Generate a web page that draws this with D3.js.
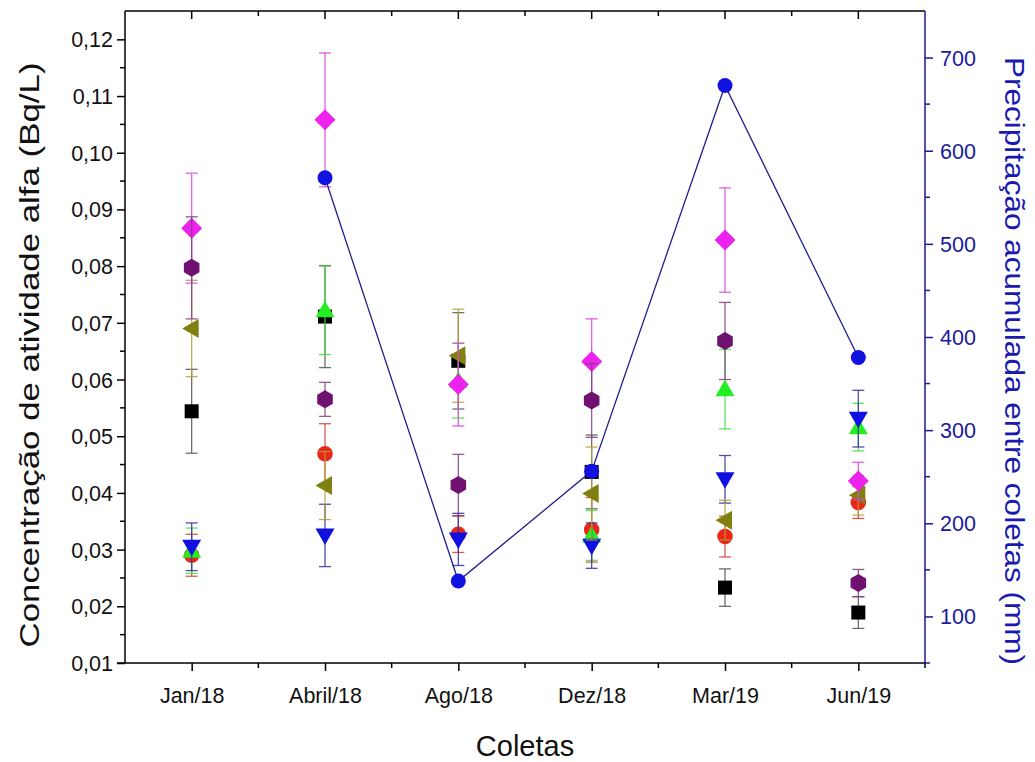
<!DOCTYPE html>
<html><head><meta charset="utf-8">
<script src="https://cdn.jsdelivr.net/npm/d3@7"></script>
<style>body{margin:0;background:#fff;} svg{display:block;font-family:"Liberation Sans",Arial,sans-serif;}</style>
</head><body><svg id="c" width="1035" height="762"></svg>
<script>
const categories = ["Jan/18","Abril/18","Ago/18","Dez/18","Mar/19","Jun/19"];
const leftTicks = [0.01,0.02,0.03,0.04,0.05,0.06,0.07,0.08,0.09,0.10,0.11,0.12];
const rightTicks = [100,200,300,400,500,600,700];

const blackVals   = [0.0544,0.0711,0.0633,0.0437,0.0233,0.0189];
const blackErr    = [0.0074,0.0090,0.0085,0.0065,0.0033,0.0028];
const redVals     = [0.0290,0.0469,0.0327,0.0335,0.0323,0.0383];
const redErr      = [0.0037,0.0053,0.0032,0.0057,0.0036,0.0028];
const greenVals   = [0.0298,0.0722,0.0598,0.0325,0.0583,0.0516];
const greenErr    = [0.0040,0.0078,0.0066,0.0044,0.0070,0.0042];
const blueVals    = [0.0305,0.0325,0.0318,0.0307,0.0424,0.0531];
const blueErr     = [0.0042,0.0055,0.0046,0.0040,0.0042,0.0050];
const oliveVals   = [0.0690,0.0413,0.0642,0.0399,0.0352,0.0396];
const oliveErr    = [0.0085,0.0060,0.0082,0.0082,0.0035,0.0035];
const magentaVals = [0.0867,0.1058,0.0591,0.0632,0.0846,0.0421];
const magentaErr  = [0.0097,0.0118,0.0073,0.0075,0.0092,0.0033];
const purpleVals  = [0.0797,0.0565,0.0414,0.0563,0.0668,0.0241];
const purpleErr   = [0.0090,0.0030,0.0054,0.0065,0.0068,0.0024];
const precipVals  = [null,571,138,256,670,378];

const series = [
  {v:blackVals,e:blackErr,fill:"#000000",err:"#555555",shape:"square"},
  {v:redVals,e:redErr,fill:"#e8261a",err:"#d84030",shape:"circle"},
  {v:greenVals,e:greenErr,fill:"#22ee22",err:"#44dd44",shape:"up"},
  {v:blueVals,e:blueErr,fill:"#1010e0",err:"#3030a0",shape:"down"},
  {v:oliveVals,e:oliveErr,fill:"#808010",err:"#b0a030",shape:"left"},
  {v:magentaVals,e:magentaErr,fill:"#ee22ee",err:"#dd44dd",shape:"diamond"},
  {v:purpleVals,e:purpleErr,fill:"#701070",err:"#804080",shape:"hex"}
];

const svg = d3.select("#c");
const L=125,R=925,T=11,B=663;
const x = d3.scaleLinear().domain([-0.5,5.5]).range([L,R]);
const y = d3.scaleLinear().domain([0.01,0.125]).range([B,T]);
const y2 = d3.scaleLinear().domain([50,750]).range([B,T]);
const fmt = d => d3.format(".2f")(d).replace(".",",");
const TF = 21.5;

// frame lines
svg.append("line").attr("x1",L).attr("x2",R).attr("y1",T).attr("y2",T).attr("stroke","#000").attr("stroke-width",1.5);
svg.append("line").attr("x1",L-8).attr("x2",R).attr("y1",B).attr("y2",B).attr("stroke","#000").attr("stroke-width",1.5);

// bottom axis
const xb = d3.axisBottom(x).tickValues(d3.range(categories.length)).tickFormat(i=>categories[i]).tickSize(8).tickSizeOuter(0);
const gx = svg.append("g").attr("transform",`translate(0,${B})`).call(xb);
gx.select(".domain").remove();
gx.selectAll(".tick line").attr("stroke-width",1.5);
gx.selectAll("text").attr("font-size",TF).attr("y",40).attr("dy",0).attr("fill","#111");
const minorX = d3.range(0.5,5.5,1).concat([5.5]);
svg.append("g").selectAll("line").data(minorX).join("line")
  .attr("x1",d=>x(d)).attr("x2",d=>x(d)).attr("y1",B).attr("y2",B+5).attr("stroke","#000").attr("stroke-width",1.5);
// top ticks inward
svg.append("g").selectAll("line").data(d3.range(categories.length)).join("line")
  .attr("x1",d=>x(d)).attr("x2",d=>x(d)).attr("y1",T).attr("y2",T+8).attr("stroke","#000").attr("stroke-width",1.5);
svg.append("g").selectAll("line").data(minorX.slice(0,5)).join("line")
  .attr("x1",d=>x(d)).attr("x2",d=>x(d)).attr("y1",T).attr("y2",T+5).attr("stroke","#000").attr("stroke-width",1.5);

// left axis
const yl = d3.axisLeft(y).tickValues(leftTicks).tickFormat(fmt).tickSize(8).tickSizeOuter(0);
const gy = svg.append("g").attr("transform",`translate(${L},0)`).call(yl);
gy.select(".domain").attr("stroke-width",1.5).attr("d",`M0,${B}V${T}`);
gy.selectAll(".tick line").attr("stroke-width",1.5);
gy.selectAll("text").attr("font-size",TF).attr("fill","#111").attr("x",-12).attr("dy","0.35em");
svg.append("g").selectAll("line").data(d3.range(0.015,0.125,0.01)).join("line")
  .attr("x1",L-5).attr("x2",L).attr("y1",d=>y(d)).attr("y2",d=>y(d)).attr("stroke","#000").attr("stroke-width",1.5);

// right axis
const blueAxis="#1a1a9a";
const yr = d3.axisRight(y2).tickValues(rightTicks).tickSize(8).tickSizeOuter(0);
const gr = svg.append("g").attr("transform",`translate(${R},0)`).call(yr);
gr.select(".domain").attr("stroke",blueAxis).attr("stroke-width",1.5).attr("d",`M0,${B}V${T}`);
gr.selectAll(".tick line").attr("stroke",blueAxis).attr("stroke-width",1.5);
gr.selectAll("text").attr("font-size",TF).attr("fill",blueAxis).attr("x",15).attr("dy","0.35em");
svg.append("g").selectAll("line").data([50,150,250,350,450,550,650]).join("line")
  .attr("x1",R).attr("x2",R+5).attr("y1",d=>y2(d)).attr("y2",d=>y2(d)).attr("stroke",blueAxis).attr("stroke-width",1.5);

// titles
svg.append("text").attr("transform",`translate(39,355) rotate(-90)`).attr("text-anchor","middle")
  .attr("font-size",28).attr("fill","#111").attr("textLength",585).attr("lengthAdjust","spacingAndGlyphs")
  .text("Concentração de atividade alfa (Bq/L)");
svg.append("text").attr("transform",`translate(1005,361) rotate(90)`).attr("text-anchor","middle")
  .attr("font-size",28).attr("fill","#1a1ab0").attr("textLength",608).attr("lengthAdjust","spacingAndGlyphs")
  .text("Precipitação acumulada entre coletas (mm)");
svg.append("text").attr("x",525).attr("y",756).attr("text-anchor","middle")
  .attr("font-size",29).attr("fill","#111").text("Coletas");

// shapes
function shapePath(s){
  switch(s){
    case "square": return "M-7,-7H7V7H-7Z";
    case "circle": return d3.symbol(d3.symbolCircle,190)();
    case "up": return "M0,-9.5L9.5,7H-9.5Z";
    case "down": return "M0,9.5L9.5,-7H-9.5Z";
    case "left": return "M-9.5,0L7,-9.5V9.5Z";
    case "diamond": return "M0,-10.5L10.5,0L0,10.5L-10.5,0Z";
    case "hex": { const r=9; return d3.range(6).map((k,i)=>{const a=Math.PI/3*k+Math.PI/6; return (i?"L":"M")+(r*Math.cos(a)).toFixed(2)+","+(r*Math.sin(a)).toFixed(2);}).join("")+"Z"; }
  }
}

const cap=6;
series.forEach(s=>{
  const g = svg.append("g");
  const idx = d3.range(categories.length);
  const eb = g.append("g").attr("stroke",s.err).attr("stroke-width",1.3).attr("stroke-opacity",0.85);
  eb.selectAll("line.v").data(idx).join("line").attr("class","v")
    .attr("x1",i=>x(i)).attr("x2",i=>x(i)).attr("y1",i=>y(s.v[i]-s.e[i])).attr("y2",i=>y(s.v[i]+s.e[i]));
  eb.selectAll("line.t").data(idx).join("line").attr("class","t")
    .attr("x1",i=>x(i)-cap).attr("x2",i=>x(i)+cap).attr("y1",i=>y(s.v[i]+s.e[i])).attr("y2",i=>y(s.v[i]+s.e[i]));
  eb.selectAll("line.b").data(idx).join("line").attr("class","b")
    .attr("x1",i=>x(i)-cap).attr("x2",i=>x(i)+cap).attr("y1",i=>y(s.v[i]-s.e[i])).attr("y2",i=>y(s.v[i]-s.e[i]));
  g.selectAll("path").data(idx).join("path").attr("d",shapePath(s.shape))
    .attr("transform",i=>`translate(${x(i)},${y(s.v[i])})`).attr("fill",s.fill);
});

// precipitation
const pdata = precipVals.map((v,i)=>({i,v})).filter(d=>d.v!=null);
svg.append("path").datum(pdata).attr("fill","none").attr("stroke","#20208c").attr("stroke-width",1.3)
  .attr("d",d3.line().x(d=>x(d.i)).y(d=>y2(d.v)));
svg.append("g").selectAll("circle").data(pdata).join("circle")
  .attr("cx",d=>x(d.i)).attr("cy",d=>y2(d.v)).attr("r",7.5).attr("fill","#1212e0");
</script></body></html>
